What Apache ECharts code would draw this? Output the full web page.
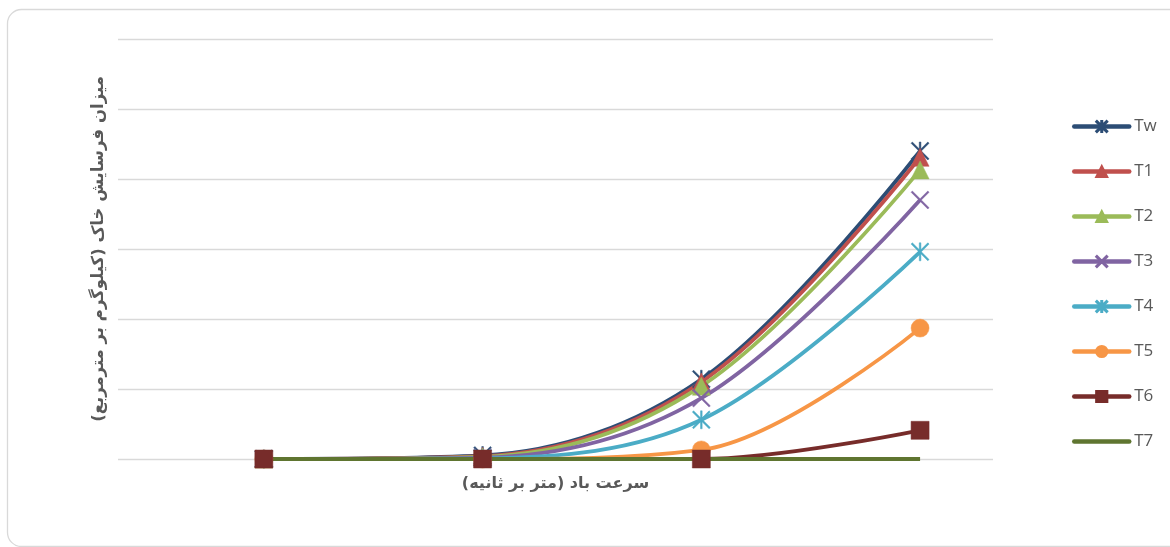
<!DOCTYPE html>
<html><head><meta charset="utf-8">
<script src="https://cdn.jsdelivr.net/npm/echarts@6/dist/echarts.min.js"></script>
<style>html,body{margin:0;padding:0;background:#fff;}#c{width:1170px;height:547px;}</style>
</head><body><div id="c"></div>
<script>
// wind speed steps (no labels shown in the reference)
const windSteps = [1, 2, 3, 4];
const seriesNames = ['Tw','T1','T2','T3','T4','T5','T6','T7'];
const Tw = [0, 0.05, 1.14, 4.40];
const T1 = [0, 0.04, 1.10, 4.31];
const T2 = [0, 0.03, 1.04, 4.13];
const T3 = [0, 0.02, 0.87, 3.70];
const T4 = [0, 0.01, 0.56, 2.96];
const T5 = [0, 0, 0.13, 1.87];
const T6 = [0, 0, 0, 0.41];
const T7 = [0, 0, 0, 0];
const yTicks = [0, 1, 2, 3, 4, 5, 6];
const xTitle = 'سرعت باد (متر بر ثانیه)';
const yTitle = 'میزان فرسایش خاک (کیلوگرم بر مترمربع)';

const xPath = 'path://M0,1.4L1.4,0L10,8.6L18.6,0L20,1.4L11.4,10L20,18.6L18.6,20L10,11.4L1.4,20L0,18.6L8.6,10Z';
const starPath = 'path://M0,1.4L1.4,0L10,8.6L18.6,0L20,1.4L11.4,10L20,18.6L18.6,20L10,11.4L1.4,20L0,18.6L8.6,10Z M9.1,0L10.9,0L10.9,20L9.1,20Z';

const colors = ['#2C4D75','#C0504D','#9BBB59','#8064A2','#4BACC6','#F79646','#772C2A','#5F7530'];
const symbols = [starPath, 'triangle', 'triangle', xPath, starPath, 'circle', 'rect', 'none'];
const sizes = [18, 18, 18, 18, 18, 18, 18, 0];
const data = [Tw, T1, T2, T3, T4, T5, T6, T7];

const chart = echarts.init(document.getElementById('c'));
chart.setOption({
  animation: false,
  textStyle: {fontFamily: "'Noto Sans','DejaVu Sans',sans-serif"},
  graphic: [{
    type: 'rect', silent: true, z: -10,
    shape: {x: 7.5, y: 9.5, width: 1220, height: 537, r: 14},
    style: {fill: 'none', stroke: '#d9d9d9', lineWidth: 1.3}
  }],
  grid: {left: 118, right: 177, top: 39, bottom: 88},
  legend: {
    orient: 'vertical', left: 1067, top: 113,
    itemWidth: 55, itemHeight: 14, itemGap: 28,
    lineStyle: {width: 4.5, cap: 'round'},
    textStyle: {fontSize: 17, color: '#595959', fontFamily: "'Open Sans','Noto Sans',sans-serif"},
    data: seriesNames.map(n => n === 'T7' ? {name: n, itemStyle: {opacity: 0}} : {name: n})
  },
  xAxis: {
    type: 'value', min: 1/3, max: 4 + 1/3,
    axisLine: {show: false}, axisTick: {show: false}, axisLabel: {show: false}, splitLine: {show: false},
    name: xTitle, nameLocation: 'middle', nameGap: 17,
    nameTextStyle: {fontSize: 16, fontWeight: 'bold', color: '#595959', fontFamily: "'DejaVu Sans',sans-serif"}
  },
  yAxis: {
    type: 'value', min: yTicks[0], max: yTicks[yTicks.length-1], interval: 1,
    axisLine: {show: false}, axisTick: {show: false}, axisLabel: {show: false},
    splitLine: {lineStyle: {color: '#d9d9d9', width: 1.3}},
    name: yTitle, nameLocation: 'middle', nameGap: 11,
    nameTextStyle: {fontSize: 16.5, fontWeight: 'bold', color: '#595959', fontFamily: "'DejaVu Sans',sans-serif"}
  },
  series: seriesNames.map((n, i) => ({
    name: n, type: 'line', smooth: 0.35,
    data: windSteps.map((x, j) => [x, data[i][j]]),
    symbol: symbols[i], symbolSize: sizes[i], showSymbol: symbols[i] !== 'none',
    lineStyle: {color: colors[i], width: 3.8},
    itemStyle: {color: colors[i], borderColor: colors[i], borderWidth: 0.5},
    emphasis: {disabled: true}
  }))
});
</script></body></html>
